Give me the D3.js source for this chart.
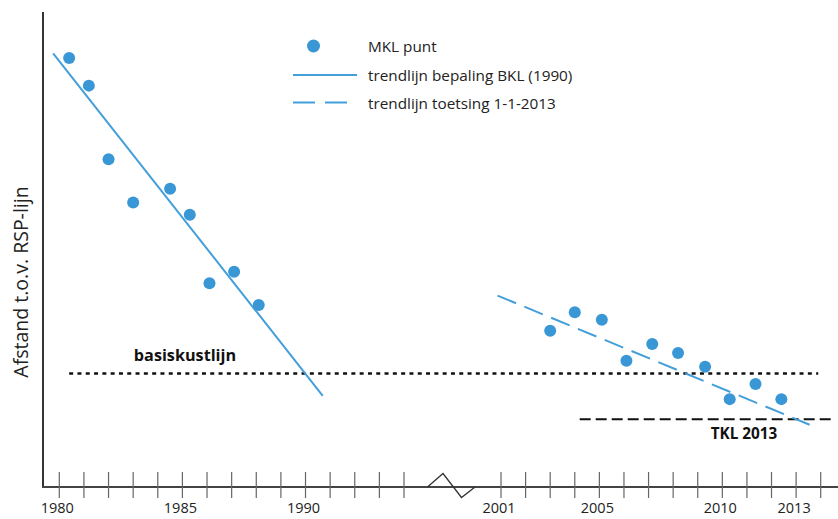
<!DOCTYPE html>
<html>
<head>
<meta charset="utf-8">
<script src="https://cdn.jsdelivr.net/npm/d3@7"></script>
<style>
  html, body { margin: 0; padding: 0; background: #fff; }
  svg { display: block; font-family: "Open Sans", "Noto Sans", sans-serif; }
</style>
</head>
<body>
<svg id="chart" width="838" height="519"></svg>
<script>
// ---------- data ----------
const leftYears = [1980.4, 1981.2, 1982.0, 1983.0, 1984.5, 1985.3, 1986.1, 1987.1, 1988.1];
const leftValues = [90.3, 84.5, 69.0, 59.9, 62.8, 57.3, 42.9, 45.3, 38.3];
const rightYears = [2003.0, 2004.0, 2005.1, 2006.1, 2007.15, 2008.2, 2009.3, 2010.3, 2011.35, 2012.4];
const rightValues = [32.9, 36.8, 35.2, 26.6, 30.1, 28.2, 25.3, 18.5, 21.7, 18.5];
const trendBKLYears = [1979.75, 1990.7];
const trendBKLValues = [91.3, 19.2];
const trendToetsYears = [2000.75, 2013.55];
const trendToetsValues = [40.3, 13.1];
const basisYears = [1980.4, 2013.9];
const basisValue = 23.9;
const tklYears = [2004.2, 2014.45];
const tklValue = 14.25;
const tickYearsLeft = [1980,1981,1982,1983,1984,1985,1986,1987,1988,1989,1990,1991,1992,1993,1994];
const tickYearsRight = [2001,2002,2003,2004,2005,2006,2007,2008,2009,2010,2011,2012,2013,2014];
const tickLabels = [1980, 1985, 1990, 2001, 2005, 2010, 2013];
const legendLabels = ["MKL punt", "trendlijn bepaling BKL (1990)", "trendlijn toetsing 1-1-2013"];
const yTitle = "Afstand t.o.v. RSP-lijn";

// ---------- layout ----------
const blue = "#3a97d5";
const lineBlue = "#449fd9";
const svg = d3.select("#chart");
const axisY = 487, axisX0 = 43, axisTop = 12;

const x = d3.scaleLinear()
  .domain([1980, 1994, 2001, 2014])
  .range([59.3, 404, 501, 820.7]);
const y = d3.scaleLinear().domain([0, 100]).range([axisY, axisTop]);

// y-axis title
svg.append("text")
  .attr("transform", `translate(28,282) rotate(-90)`)
  .attr("text-anchor", "middle")
  .attr("font-size", 19.5)
  .attr("fill", "#222")
  .text(yTitle);

// axes
svg.append("line").attr("x1", axisX0).attr("x2", axisX0).attr("y1", axisTop).attr("y2", axisY)
  .attr("stroke", "#333").attr("stroke-width", 2);
svg.append("line").attr("x1", axisX0 - 1).attr("x2", 838).attr("y1", axisY).attr("y2", axisY)
  .attr("stroke", "#444").attr("stroke-width", 2);

// ticks
const allTicks = tickYearsLeft.concat(tickYearsRight);
svg.append("g").selectAll("line").data(allTicks).join("line")
  .attr("x1", d => x(d)).attr("x2", d => x(d))
  .attr("y1", axisY - 15).attr("y2", axisY + 11)
  .attr("stroke", "#666").attr("stroke-width", 1.2);

svg.append("g").selectAll("text").data(tickLabels).join("text")
  .attr("x", d => x(d) - 2).attr("y", 513)
  .attr("text-anchor", "middle")
  .attr("font-size", 14.5)
  .attr("fill", "#222")
  .text(d => d);

// axis break zigzag
const bx = (x(1994) + x(2001)) / 2 - 1;
svg.append("path")
  .attr("d", `M${bx - 24},${axisY} L${bx - 8.5},${axisY - 13.5} L${bx + 10},${axisY + 10.5} L${bx + 23.5},${axisY}`)
  .attr("fill", "none").attr("stroke", "#333").attr("stroke-width", 1.3);

// basiskustlijn
svg.append("line")
  .attr("x1", x(basisYears[0])).attr("x2", x(basisYears[1]))
  .attr("y1", y(basisValue)).attr("y2", y(basisValue))
  .attr("stroke", "#111").attr("stroke-width", 2.6).attr("stroke-dasharray", "4,4.3");
svg.append("text")
  .attr("x", 185).attr("y", y(basisValue) - 12)
  .attr("text-anchor", "middle").attr("font-size", 16.2).attr("font-weight", 700)
  .attr("fill", "#111").text("basiskustlijn");

// TKL 2013
svg.append("line")
  .attr("x1", x(tklYears[0])).attr("x2", x(tklYears[1]))
  .attr("y1", y(tklValue)).attr("y2", y(tklValue))
  .attr("stroke", "#111").attr("stroke-width", 2).attr("stroke-dasharray", "11,5");
svg.append("text")
  .attr("x", 744).attr("y", 439)
  .attr("text-anchor", "middle").attr("font-size", 15.3).attr("font-weight", 700)
  .attr("fill", "#111").text("TKL 2013");

// trend lines
svg.append("line")
  .attr("x1", x(trendBKLYears[0])).attr("x2", x(trendBKLYears[1]))
  .attr("y1", y(trendBKLValues[0])).attr("y2", y(trendBKLValues[1]))
  .attr("stroke", lineBlue).attr("stroke-width", 2);
svg.append("line")
  .attr("x1", x(trendToetsYears[0])).attr("x2", x(trendToetsYears[1]))
  .attr("y1", y(trendToetsValues[0])).attr("y2", y(trendToetsValues[1]))
  .attr("stroke", lineBlue).attr("stroke-width", 2).attr("stroke-dasharray", "20,9");

// points
const pts = leftYears.map((yr, i) => ({yr, v: leftValues[i]}))
  .concat(rightYears.map((yr, i) => ({yr, v: rightValues[i]})));
svg.append("g").selectAll("circle").data(pts).join("circle")
  .attr("cx", d => x(d.yr)).attr("cy", d => y(d.v)).attr("r", 6)
  .attr("fill", blue);

// legend
const lg = svg.append("g");
lg.append("circle").attr("cx", 313.5).attr("cy", 46).attr("r", 6.5).attr("fill", blue);
lg.append("line").attr("x1", 293).attr("x2", 357).attr("y1", 75).attr("y2", 75)
  .attr("stroke", lineBlue).attr("stroke-width", 2);
lg.append("line").attr("x1", 293).attr("x2", 357).attr("y1", 102.5).attr("y2", 102.5)
  .attr("stroke", lineBlue).attr("stroke-width", 2).attr("stroke-dasharray", "22,10");
lg.selectAll("text").data(legendLabels).join("text")
  .attr("x", 368).attr("y", (d, i) => 52 + i * 28.5)
  .attr("font-size", 15.3).attr("fill", "#222")
  .text(d => d);
</script>
</body>
</html>
